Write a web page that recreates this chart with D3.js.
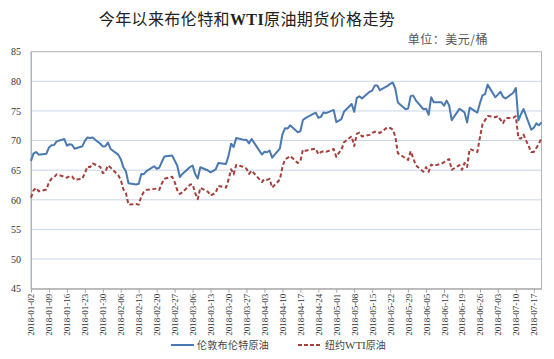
<!DOCTYPE html>
<html><head><meta charset="utf-8">
<script src="https://cdn.jsdelivr.net/npm/d3@7/dist/d3.min.js"></script>
<style>
body{margin:0;background:#fff;}
svg{display:block;}
</style></head>
<body>
<svg id="chart" width="554" height="359"></svg>
<script>
// ---- data ----
const startDate = "2018-01-02", endDate = "2018-07-20";
const closedDays = ["2018-03-30"];
const brent = [
  66.57,67.84,68.07,67.62,
  67.78,68.82,69.20,69.26,69.87,
  70.26,69.15,69.38,69.31,68.61,
  69.03,69.96,70.53,70.42,70.52,
  69.46,69.02,69.05,69.65,68.58,
  67.62,66.86,65.51,64.81,62.79,
  62.59,62.72,64.36,64.33,64.84,
  65.67,65.25,65.42,66.39,67.31,
  67.50,66.63,65.78,63.83,64.37,
  65.54,65.79,64.34,63.61,65.49,
  64.95,64.64,64.89,65.12,66.21,
  66.05,67.42,69.47,68.91,70.45,
  70.12,70.11,69.53,70.27,
  67.64,68.12,68.02,68.33,67.11,
  68.65,71.04,72.06,72.02,72.58,
  71.42,71.58,73.48,73.78,74.06,
  74.71,73.86,74.00,74.74,74.64,
  75.17,73.13,73.36,73.62,74.87,
  76.17,74.85,77.21,77.47,77.12,
  78.23,78.43,79.28,79.30,78.51,
  79.22,79.57,79.80,78.79,76.44,
  75.30,75.39,77.50,77.59,76.79,
  75.29,75.38,74.36,77.32,76.46,
  76.46,75.88,76.74,75.94,73.44,
  75.34,75.08,74.74,73.05,75.55,
  74.73,76.31,77.62,77.85,79.44,
  77.30,77.76,78.24,77.39,77.11,
  78.07,78.86,73.40,74.45,75.33,
  71.84,72.16,72.90,72.58,73.07
];
const wti = [
  60.37,61.63,62.01,61.44,
  61.73,62.96,63.57,63.80,64.30,
  null,63.73,63.97,63.95,63.37,
  63.57,64.47,65.61,65.51,66.14,
  65.56,64.50,64.73,65.80,65.45,
  64.15,63.39,61.79,61.15,59.20,
  59.29,59.19,60.60,61.34,61.68,
  null,61.90,61.68,62.77,63.55,
  63.91,63.01,61.64,60.99,61.25,
  62.57,62.60,61.15,60.12,62.04,
  61.36,60.71,60.96,61.19,62.34,
  62.06,63.40,65.17,64.30,65.88,
  65.55,65.25,64.38,64.94,
  63.01,63.51,63.37,63.54,62.06,
  63.42,65.51,66.82,67.07,67.39,
  66.22,66.52,68.47,68.29,68.38,
  68.64,67.70,68.05,68.19,68.10,
  68.57,67.25,67.93,68.43,69.72,
  70.73,69.06,71.14,71.36,70.70,
  70.96,71.31,71.49,71.49,71.28,
  72.24,72.13,71.84,70.71,67.88,
  null,66.73,68.21,67.04,65.81,
  64.75,65.52,64.73,65.95,65.74,
  66.10,66.36,66.64,66.89,65.06,
  65.85,65.07,66.22,65.54,68.58,
  68.08,70.53,72.76,73.45,74.15,
  73.94,74.14,null,72.94,73.80,
  73.85,74.11,70.38,70.33,71.01,
  68.06,68.08,68.76,69.46,70.46
];
const yTicks = [45,50,55,60,65,70,75,80,85];
const seriesNames = ["伦敦布伦特原油","纽约WTI原油"];
const titleText = ["今年以来布伦特和","WTI","原油期货价格走势"];
const unitText = "单位：美元/桶";

// ---- build ----
const parse = d3.timeParse("%Y-%m-%d");
const fmt = d3.timeFormat("%Y-%m-%d");
const d0 = parse(startDate), d1 = parse(endDate);
const dates = d3.timeDay.range(d0, d3.timeDay.offset(d1,1))
  .filter(d => d.getDay()!==0 && d.getDay()!==6 && !closedDays.includes(fmt(d)));

const svg = d3.select("#chart");
const L = 31, R = 541.5, T = 51.7, B = 288.7;
const x = d3.scaleTime().domain([d0,d1]).range([L,R]);
const y = d3.scaleLinear().domain([45,85]).range([B,T]);

const serif = "'Liberation Serif','Times New Roman',serif";
const cjk = "'Noto Sans CJK SC','Noto Sans',sans-serif";

// gridlines
svg.append("g").selectAll("line").data(yTicks.filter(v=>v>45 && v<85)).join("line")
  .attr("x1",L).attr("x2",R).attr("y1",d=>y(d)).attr("y2",d=>y(d))
  .attr("stroke","#c9d6e8").attr("stroke-width",1);

// plot border
svg.append("rect").attr("x",L).attr("y",T).attr("width",R-L).attr("height",B-T)
  .attr("fill","none").attr("stroke","#b4b4b4").attr("stroke-width",1);

// y axis labels
const yAxis = d3.axisLeft(y).tickValues(yTicks).tickSize(0).tickPadding(10);
const gy = svg.append("g").attr("transform",`translate(${L},0)`).call(yAxis);
gy.select(".domain").attr("stroke","#a8b4c4");
gy.selectAll("text").attr("font-family",serif).attr("font-size",10).attr("fill","#333");

// x axis
const xTicks = d3.timeDay.range(d0, d3.timeDay.offset(d1,1), 7);
const xAxis = d3.axisBottom(x).tickValues(xTicks).tickFormat(fmt).tickSize(4).tickSizeOuter(0);
const gx = svg.append("g").attr("transform",`translate(0,${B})`).call(xAxis);
gx.select(".domain").attr("stroke","#a8a8a8");
gx.selectAll(".tick line").attr("stroke","#a8a8a8");
gx.selectAll("text").attr("font-family",serif).attr("font-size",9).attr("fill","#333")
  .attr("transform","rotate(-90)").attr("text-anchor","end")
  .attr("x",-5).attr("y",0).attr("dy","0.33em");

// lines
const line = d3.line().x(d=>x(d.date)).y(d=>y(d.v));
const brentData = dates.map((d,i)=>({date:d,v:brent[i]})).filter(d=>d.v!=null);
const wtiData = dates.map((d,i)=>({date:d,v:wti[i]})).filter(d=>d.v!=null);

svg.append("path").datum(wtiData).attr("d",line).attr("fill","none")
  .attr("stroke","#a4403c").attr("stroke-width",2).attr("stroke-dasharray","4,2.5")
  .attr("stroke-linejoin","round");
svg.append("path").datum(brentData).attr("d",line).attr("fill","none")
  .attr("stroke","#4a78b0").attr("stroke-width",2).attr("stroke-linejoin","round");

// title
const title = svg.append("text").attr("x",247).attr("y",25).attr("text-anchor","middle")
  .attr("font-size",16).attr("fill","#222").attr("letter-spacing","0.4px");
title.append("tspan").attr("font-family",cjk).attr("font-weight",400).text(titleText[0]);
title.append("tspan").attr("font-family",serif).attr("font-weight","bold").text(titleText[1]);
title.append("tspan").attr("font-family",cjk).attr("font-weight",400).text(titleText[2]);

// unit
svg.append("text").attr("x",488).attr("y",44).attr("text-anchor","end")
  .attr("font-family",cjk).attr("font-size",12).attr("fill","#555").attr("letter-spacing","0.5px")
  .text(unitText);

// legend
const ly = 345;
svg.append("line").attr("x1",171).attr("x2",194).attr("y1",ly).attr("y2",ly)
  .attr("stroke","#4a78b0").attr("stroke-width",2);
svg.append("text").attr("x",197).attr("y",ly+3.5).attr("font-family",cjk).attr("font-size",10)
  .attr("fill","#444").attr("letter-spacing","0.3px").text(seriesNames[0]);
svg.append("line").attr("x1",298).attr("x2",320).attr("y1",ly).attr("y2",ly)
  .attr("stroke","#a4403c").attr("stroke-width",2).attr("stroke-dasharray","4,2");
const lt = svg.append("text").attr("x",325).attr("y",ly+3.5).attr("font-size",10).attr("fill","#444");
lt.append("tspan").attr("font-family",cjk).text("纽约");
lt.append("tspan").attr("font-family",serif).attr("font-size",11).text("WTI");
lt.append("tspan").attr("font-family",cjk).text("原油");
</script>
</body></html>
